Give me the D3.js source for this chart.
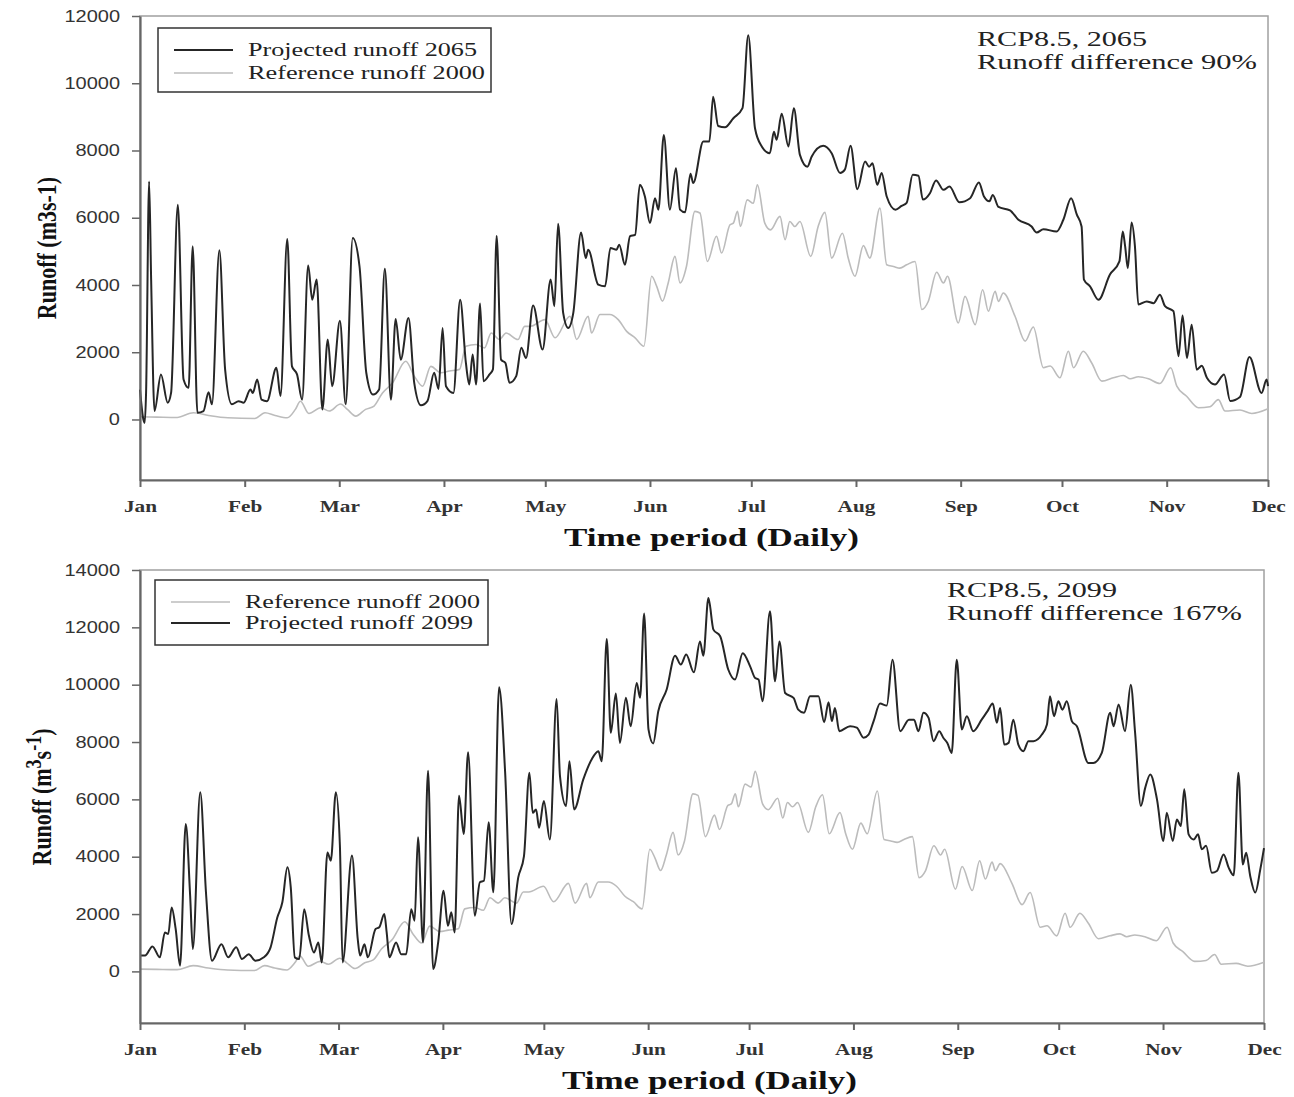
<!DOCTYPE html>
<html>
<head>
<meta charset="utf-8">
<script src="https://cdn.jsdelivr.net/npm/d3@7"></script>
<style>
body { margin: 0; background: #fff; }
svg { display: block; }
</style>
</head>
<body>
<svg id="chart" width="1294" height="1097"></svg>
<script>
// month ticks (day of year, Jan 1 = 0)
var monthLabels = ["Jan","Feb","Mar","Apr","May","Jun","Jul","Aug","Sep","Oct","Nov","Dec"];
var monthStarts = [0,31,59,90,120,151,181,212,243,273,304,334];
var yTicksTop = [0,2000,4000,6000,8000,10000,12000];
var yTicksBottom = [0,2000,4000,6000,8000,10000,12000,14000];

// [day, runoff m3/s]
var ref2000 = [[0,80],[5,70],[11,60],[15.8,200],[20.3,120],[26,50],[34,30],[37,200],[40,120],[43.6,50],[46,300],[47.5,540],[50,180],[53.5,350],[56,250],[59.4,460],[61.4,300],[63.9,100],[66.8,300],[69.3,400],[71.8,790],[74.8,1090],[78.7,1730],[81.2,1290],[83.7,990],[86.1,1580],[89.1,1390],[91.6,1440],[94.6,1490],[96.5,2180],[99.5,2230],[102,2130],[104,2570],[106.4,2380],[108.4,2570],[111.9,2380],[113.9,2770],[115.5,2770],[119.9,2970],[122.9,2430],[127.3,3070],[129.3,2380],[132.7,3070],[133.7,2570],[136.2,3120],[139.1,3120],[141.6,2970],[144.1,2620],[146.6,2430],[149.2,2180],[151.5,4260],[153,3960],[154.7,3520],[156.4,4060],[158.4,4850],[159.9,4060],[161.8,4550],[164.3,6190],[165.8,6140],[168,4700],[170.7,5450],[172.2,4950],[174.7,5790],[175.7,5840],[176.9,6190],[177.8,5740],[179.8,6530],[181.6,6430],[182.8,6980],[185,5840],[186.7,5640],[189.5,6040],[191,5350],[192.4,5890],[193.9,5740],[195.4,5890],[198.6,4850],[200.8,5740],[202.8,6160],[204.8,4800],[208,5540],[209.7,4800],[211.7,4260],[214.2,5170],[216.1,4800],[219.1,6290],[221.1,4600],[223.1,4550],[225,4500],[227,4600],[229.5,4700],[231.5,3270],[233.4,3510],[235.9,4380],[237.9,4060],[239.1,4260],[242.3,2870],[244.3,3660],[247.3,2820],[249.5,3860],[251.2,3220],[253.2,3810],[254.2,3510],[255.6,3760],[259.1,3070],[262.1,2330],[264.5,2750],[267.5,1540],[269.5,1590],[272.4,1240],[274.9,2030],[276.4,1540],[279.3,2030],[281.8,1680],[284.8,1140],[288.2,1240],[291.2,1310],[293.2,1210],[295.6,1270],[298.6,1210],[302,1070],[305.2,1540],[307,990],[309.9,690],[313.4,350],[316.8,380],[319.3,590],[321.3,250],[325.7,280],[329.2,180],[334,320]];

var proj2065 = [[0,890],[1,0],[1.4,-100],[1.8,800],[2.7,7080],[3.3,4150],[4.3,250],[6.2,1340],[8.2,500],[9.2,790],[11.2,6390],[12.9,1190],[14.4,940],[15.6,5150],[17,200],[18.8,250],[20.3,810],[21.3,450],[23.5,5030],[25.2,1490],[27.2,450],[29.2,545],[30.7,500],[32.7,890],[33.4,790],[34.7,1190],[36,590],[37.6,545],[40.4,1540],[41.6,700],[43.6,5370],[45,1580],[46.5,1340],[48,590],[49.8,4580],[51,3560],[52.3,4160],[54,300],[55.6,2380],[56.9,990],[59.2,2940],[60.9,450],[63,5400],[65,4550],[67,1390],[69,740],[70.8,890],[72.5,4480],[74.3,590],[75.7,2990],[77.2,1780],[79.5,3020],[81.2,1090],[83.2,420],[85.1,545],[87.1,1390],[88.4,910],[89.6,2720],[90.6,990],[92.8,790],[94.8,3560],[96.5,1680],[97.5,1040],[98.5,1930],[99.5,1040],[100.7,3450],[101.7,1140],[103.5,1340],[104.5,1490],[105.6,5460],[106.9,1780],[108.2,1680],[109.4,1090],[111.4,1290],[112.9,2130],[114.3,1830],[116.4,3390],[119.2,2080],[121.6,4160],[122.7,3370],[123.8,5820],[125.3,3170],[126.8,2720],[128.3,3170],[130.6,5560],[132,4800],[132.7,5050],[135.7,4010],[137.7,3960],[139.3,5100],[141.1,5050],[141.9,5200],[143.6,4600],[145.1,5450],[146.6,5490],[148,6980],[149.5,6630],[151,5840],[152.5,6580],[153.5,6240],[155.1,8460],[156.9,6240],[158.7,7470],[159.9,6240],[161.4,6160],[163,7310],[163.8,7030],[166.8,8270],[168.6,8270],[169.7,9600],[171.2,8730],[173.2,8690],[175.7,8960],[178.4,9260],[180.1,11430],[182.1,8660],[184.1,8120],[186.5,7920],[187.7,8560],[188.5,8320],[190,9090],[192,8120],[193.6,9260],[195.4,7870],[197.6,7520],[198.9,7820],[202.3,8140],[204.8,7920],[207.3,7330],[208.7,7430],[210.4,8140],[212.4,6850],[214.7,7670],[215.9,7520],[216.9,7620],[218.3,6980],[219.6,7330],[221.1,6630],[223.7,6240],[225.5,6350],[227,6440],[228.8,7280],[230.5,7250],[231.8,6540],[233.9,6730],[235.7,7110],[237.9,6830],[239.7,6930],[242.6,6460],[245.8,6580],[248.4,7050],[249.9,6630],[251.5,6490],[252.5,6680],[254.2,6320],[257.6,6220],[260.1,5940],[264,5740],[265.5,5560],[267.5,5660],[271.4,5590],[273.4,5940],[275.7,6580],[277.4,6090],[278.8,5740],[279.5,4160],[281.3,3960],[283.8,3560],[287.2,4310],[290,4700],[291,5590],[291.7,5150],[292.5,4500],[293.6,5860],[294.6,5150],[295.6,3420],[298.1,3510],[300.1,3460],[302,3710],[303.5,3370],[306,3220],[307.5,1880],[308.7,3090],[310,1830],[311.4,2820],[312.9,1480],[314.4,1600],[315.9,1240],[318.3,1040],[321,1340],[322.8,550],[325.7,670],[328.5,1860],[332.1,790],[333.6,1190],[334,990]];

var proj2099 = [[0,550],[1.5,550],[3.7,870],[5.9,490],[7.4,1360],[8.4,1300],[9.4,2230],[10.6,1480],[11.9,200],[13.6,5140],[14.9,2640],[15.7,780],[17.9,6250],[19.6,2760],[21.4,370],[24.2,950],[26.2,490],[28.6,840],[30.3,430],[32.3,600],[34.3,370],[36.8,490],[38.8,840],[40.8,1880],[42.3,2410],[43.8,3630],[44.8,2930],[46,490],[47.3,430],[48.8,2170],[50.2,1240],[51.7,660],[53,1010],[54,310],[55.7,4150],[56.7,3860],[58.2,6250],[59.4,4390],[60.2,310],[63,4040],[64.7,1130],[65.4,550],[66.7,950],[67.7,490],[70,1480],[71.1,1540],[72.6,2000],[73.3,1360],[74.1,490],[76.1,1010],[77.6,600],[79.1,600],[80.6,2170],[81.6,1770],[82.6,4680],[84.1,1010],[85.6,7000],[87.1,80],[88.6,1010],[90.2,2810],[91.5,1590],[92.5,2060],[93.5,1360],[94.8,6130],[96.2,4790],[97.5,7640],[99.5,1940],[101,3110],[102.2,3160],[103.6,5200],[105,2760],[106.7,9910],[108.5,6940],[110.4,1650],[112.4,3280],[114.1,4020],[115.7,6930],[116.7,5530],[117.7,5650],[118.6,5010],[120,5940],[121.8,4600],[123.8,9500],[124.8,6810],[126.6,5770],[127.6,7330],[129,5650],[131.7,6690],[134.2,7390],[136.2,7680],[137.2,7330],[138.7,11590],[139.9,8320],[141.4,9690],[142.6,7970],[144.4,9540],[145.8,8550],[147.6,10060],[148.6,9540],[149.8,12480],[151.1,8440],[152.5,7950],[154,9070],[156.5,9830],[159,11010],[160.7,10700],[162.3,11050],[164.6,10430],[166.4,11510],[167.4,11010],[168.9,13020],[170.4,11920],[172.4,11690],[174.8,10530],[176.8,10180],[179.1,11100],[181.3,10640],[182.8,10230],[183.8,10180],[185,9420],[187.2,12560],[188.7,10120],[190,11510],[191.7,9710],[194.2,9540],[195.6,9130],[197.3,9020],[199.1,9600],[201.6,9600],[203.3,8690],[204.6,9390],[205.6,8730],[206.5,9190],[207.8,8380],[211,8550],[213,8500],[215,8150],[216.5,8260],[218,8730],[219.9,9340],[221.9,9270],[223.6,10870],[225.9,8380],[228.5,8780],[230,8780],[231.3,8380],[232.8,9020],[234.3,8850],[235.8,8030],[237.5,8380],[238.7,8150],[239.9,7970],[241.2,7620],[242.7,10870],[244.2,8440],[245.7,8900],[247.6,8380],[250.1,8780],[251.8,9070],[253.4,9340],[254.6,8670],[255.6,9190],[256.8,7910],[258.1,7970],[259.5,8780],[261,7910],[262.5,7680],[264,8030],[265.5,8030],[268,8260],[269.5,8610],[270.4,9600],[271.6,8900],[272.9,9420],[274.1,9130],[275.4,9420],[276.9,8730],[278.4,8550],[281.8,7270],[283.3,7270],[285.8,7620],[288.3,9020],[289.3,8550],[290.8,9310],[292.7,8380],[294.4,10000],[295.7,8320],[297.4,5770],[298.7,6400],[300.2,6870],[302.2,6000],[304.1,4550],[305.1,5530],[306.9,4550],[308.1,5300],[309.3,5070],[310.3,6350],[311.6,4780],[313.1,4600],[314.4,4780],[315.5,4260],[316.8,4380],[318.5,3440],[320,3500],[322,4080],[323.5,3620],[325,3350],[326.4,6930],[327.7,3730],[328.7,4140],[329.9,3330],[331.4,2750],[332.9,3560],[334,4300]];

var DARK = "#262626", LIGHT = "#bcbcbc";
var SERIF = "'Liberation Serif','Times New Roman',serif";
var SANS = "'Liberation Sans',Arial,sans-serif";
var SX = 1.25; // the figure is stretched horizontally

var svg = d3.select("#chart");

function label(g, txt, x, y, o) {
    var t = g.append("text")
        .attr("x", x).attr("y", y)
        .attr("font-family", o.family || SERIF)
        .attr("font-size", o.size)
        .attr("font-weight", o.weight || "normal")
        .attr("fill", o.fill || "#222")
        .text(txt);
    if (o.width) t.attr("textLength", o.width).attr("lengthAdjust", "spacingAndGlyphs");
    return t;
}

function drawPanel(p) {
    var g = svg.append("g");
    var x = d3.scaleLinear().domain([0, 334]).range([p.left, p.right]);
    var y = d3.scaleLinear().domain([-1800, p.yMax]).range([p.bottom, p.top]);

    g.append("rect")
        .attr("x", p.left).attr("y", p.top)
        .attr("width", p.right - p.left).attr("height", p.bottom - p.top)
        .attr("fill", "none").attr("stroke", "#a0a0a0").attr("stroke-width", 1.5);

    var line = d3.line()
        .x(d => x(d[0]))
        .y(d => y(d[1]))
        .curve(d3.curveMonotoneX);

    p.series.forEach(function(s) {
        g.append("path").datum(s.data)
            .attr("d", line)
            .attr("fill", "none")
            .attr("stroke", s.color)
            .attr("stroke-width", s.width)
            .attr("stroke-linejoin", "round");
    });

    var xg = g.append("g")
        .attr("transform", "translate(0," + p.bottom + ")")
        .call(d3.axisBottom(x).tickValues(monthStarts)
            .tickFormat((d, i) => monthLabels[i])
            .tickSize(7).tickPadding(13).tickSizeOuter(0));
    xg.attr("color", "#666").attr("font-family", SERIF).attr("font-size", 17).attr("font-weight", "bold");
    xg.select(".domain").attr("stroke-width", 2.2);
    xg.selectAll(".tick line").attr("stroke-width", 2);
    xg.selectAll("text").attr("fill", "#333").attr("transform", "scale(" + SX + ",1)");

    var yg = g.append("g")
        .attr("transform", "translate(" + p.left + ",0)")
        .call(d3.axisLeft(y).tickValues(p.yTicks).tickFormat(d3.format("d"))
            .tickSize(8).tickPadding(8).tickSizeOuter(0));
    yg.attr("color", "#666").attr("font-family", SANS).attr("font-size", 16);
    yg.select(".domain").attr("stroke-width", 2.2);
    yg.selectAll(".tick line").attr("stroke-width", 1.5);
    yg.selectAll("text").attr("fill", "#333").attr("transform", "scale(" + SX + ",1)");

    // legend
    var L = p.legend;
    g.append("rect")
        .attr("x", L.x).attr("y", L.y).attr("width", L.w).attr("height", L.h)
        .attr("fill", "#fff").attr("stroke", "#333").attr("stroke-width", 1.5);
    L.rows.forEach(function(r, i) {
        var ly = L.y + L.rowY[i];
        g.append("line")
            .attr("x1", L.x + 16).attr("x2", L.x + 75)
            .attr("y1", ly).attr("y2", ly)
            .attr("stroke", r.color).attr("stroke-width", r.width);
        label(g, r.name, L.x + 90, ly + 6, {size: 19, width: r.textW});
    });

    // annotation
    p.note.forEach(function(n, i) {
        label(g, n.text, p.noteX, p.noteY + i * 23, {size: 21, width: n.w});
    });

    // axis titles
    label(g, "Time period (Daily)", p.titleX, p.bottom + 66, {size: 26, weight: "bold", fill: "#111", width: 295});

    var yt = g.append("text")
        .attr("transform", "translate(" + p.yTitleX + "," + p.yTitleY + ") scale(" + SX + ",1) rotate(-90)")
        .attr("text-anchor", "middle")
        .attr("font-family", SERIF).attr("font-size", 22).attr("font-weight", "bold")
        .attr("fill", "#111");
    p.yTitle.forEach(function(part) {
        var ts = yt.append("tspan").text(part.t);
        if (part.sup) ts.attr("font-size", 18).attr("baseline-shift", "45%");
    });
}

drawPanel({
    left: 140, right: 1268, top: 16, bottom: 480, yMax: 12000, yTicks: yTicksTop,
    series: [
        {data: ref2000, color: LIGHT, width: 1.6},
        {data: proj2065, color: DARK, width: 2}
    ],
    legend: {
        x: 158, y: 28, w: 333, h: 64, rowY: [22, 45],
        rows: [
            {name: "Projected runoff 2065", color: DARK, width: 2, textW: 229},
            {name: "Reference runoff 2000", color: LIGHT, width: 1.6, textW: 237}
        ]
    },
    noteX: 977, noteY: 46,
    note: [{text: "RCP8.5, 2065", w: 170}, {text: "Runoff difference 90%", w: 280}],
    titleX: 564,
    yTitleX: 56, yTitleY: 248,
    yTitle: [{t: "Runoff (m3s-1)"}]
});

drawPanel({
    left: 140, right: 1264, top: 570, bottom: 1023, yMax: 14000, yTicks: yTicksBottom,
    series: [
        {data: ref2000, color: LIGHT, width: 1.6},
        {data: proj2099, color: DARK, width: 2}
    ],
    legend: {
        x: 155, y: 580, w: 333, h: 65, rowY: [22, 43],
        rows: [
            {name: "Reference runoff 2000", color: LIGHT, width: 1.6, textW: 235},
            {name: "Projected runoff 2099", color: DARK, width: 2, textW: 228}
        ]
    },
    noteX: 947, noteY: 597,
    note: [{text: "RCP8.5, 2099", w: 170}, {text: "Runoff difference 167%", w: 295}],
    titleX: 562,
    yTitleX: 51, yTitleY: 797,
    yTitle: [{t: "Runoff (m"}, {t: "3", sup: true}, {t: "s"}, {t: "-1", sup: true}, {t: ")"}]
});
</script>
</body>
</html>
